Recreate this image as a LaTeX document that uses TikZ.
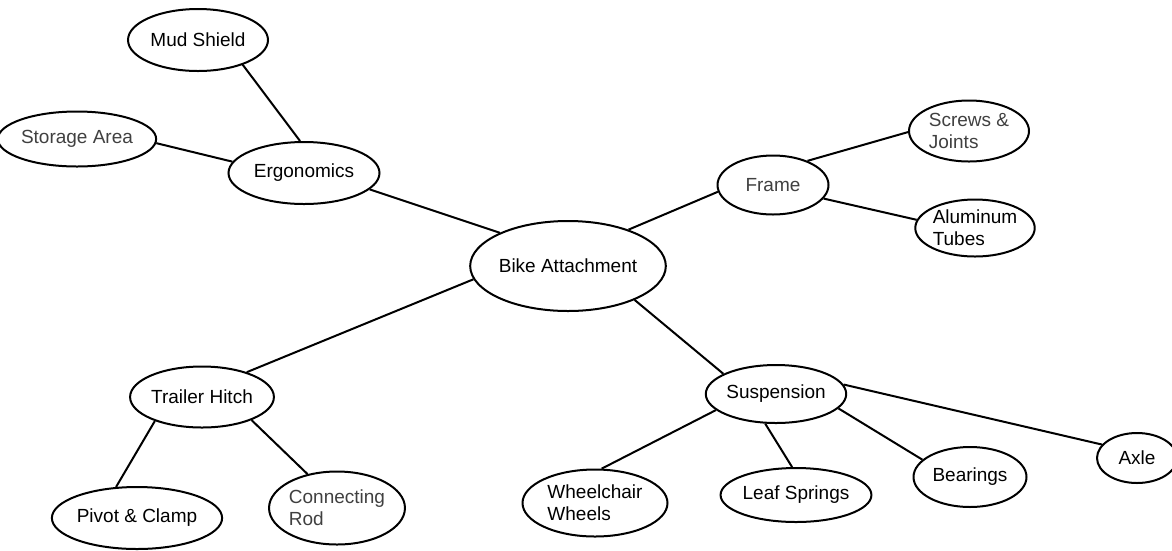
\documentclass[tikz,border=0pt]{standalone}
\usepackage{fontspec}
\setmainfont{Liberation Sans}
\usetikzlibrary{shapes.geometric}

\tikzset{
  part/.style={draw,ellipse,line width=2pt,inner sep=0pt,align=left,font=\fontsize{19}{22}\selectfont},
  link/.style={line width=2pt},
  faint/.style={text=black!75}
}

\begin{document}
\begin{tikzpicture}[x=1pt,y=-1pt]
\useasboundingbox (0,0) rectangle (1172,550);

\node[part,minimum width=164pt,minimum height=90pt] (bike) at (568,266) {Bike Attachment};
\node[part,minimum width=151pt,minimum height=62pt] (ergo) at (304,173) {Ergonomics};
\node[part,minimum width=140pt,minimum height=62pt] (mud) at (198,40) {Mud Shield};
\node[part,faint,minimum width=140pt,minimum height=55pt] (storage) at (77,139) {Storage Area};
\node[part,faint,minimum width=111pt,minimum height=59pt] (frame) at (773,185) {Frame};
\node[part,faint,minimum width=120pt,minimum height=61pt] (screws) at (969,131) {Screws \&\\Joints};
\node[part,minimum width=116pt,minimum height=57pt] (tubes) at (975,228) {Aluminum\\Tubes};
\node[part,minimum width=141pt,minimum height=61pt] (hitch) at (202,397) {Trailer Hitch};
\node[part,minimum width=145pt,minimum height=62pt] (pivot) at (137,518) {Pivot \& Clamp};
\node[part,faint,minimum width=129pt,minimum height=73pt] (rod) at (337,508) {Connecting\\Rod};
\node[part,minimum width=130pt,minimum height=58pt] (susp) at (776,394) {Suspension};
\node[part,minimum width=145pt,minimum height=67pt] (wheels) at (595,503) {Wheelchair\\Wheels};
\node[part,minimum width=146pt,minimum height=54pt] (leaf) at (796,495) {Leaf Springs};
\node[part,minimum width=113pt,minimum height=60pt] (bearings) at (970,477) {Bearings};
\node[part,minimum width=80pt,minimum height=50pt] (axle) at (1137,458) {Axle};

\draw[link] (ergo.-14) -- (bike.154);
\draw[link] (mud.-29) -- (ergo.97);
\draw[link] (storage.-3) -- (ergo.171);
\draw[link] (frame.187) -- (bike.31);
\draw[link] (frame.35) -- (screws.181);
\draw[link] (frame.-15) -- (tubes.172);
\draw[link] (hitch.29) -- (bike.188);
\draw[link] (hitch.207) -- (pivot.124);
\draw[link] (hitch.-25) -- (rod.131);
\draw[link] (susp.159) -- (bike.-27);
\draw[link] (susp.195) -- (wheels.79);
\draw[link] (susp.-110) -- (leaf.98);
\draw[link] (susp.-13) -- (bearings.160);
\draw[link] (susp.8) -- (axle.159);

\end{tikzpicture}
\end{document}
